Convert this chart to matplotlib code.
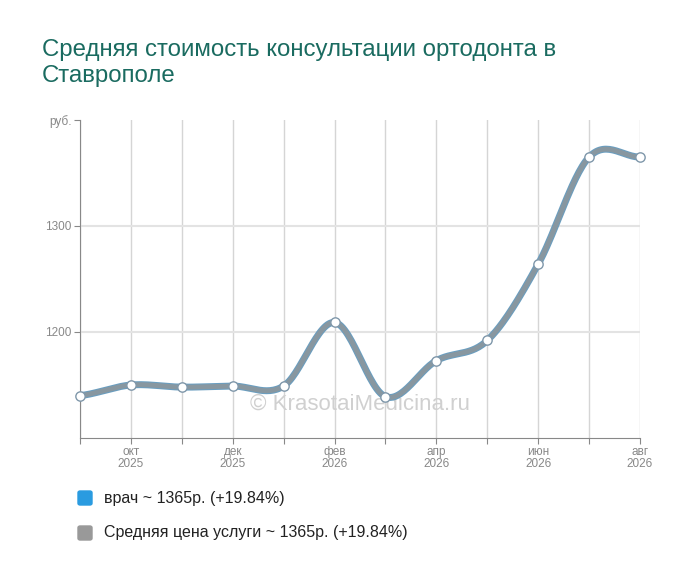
import numpy as np
import matplotlib
matplotlib.use("Agg")
import matplotlib.pyplot as plt
plt.rcParams['font.family'] = ['Liberation Sans', 'DejaVu Sans']

months = ["сен\n2025","окт\n2025","ноя\n2025","дек\n2025","янв\n2026","фев\n2026","мар\n2026","апр\n2026","май\n2026","июн\n2026","июл\n2026","авг\n2026"]
tick_labels = ["", "окт\n2025", "", "дек\n2025", "", "фев\n2026", "", "апр\n2026", "", "июн\n2026", "", "авг\n2026"]
values = [1140, 1150, 1148, 1149, 1149, 1209, 1139, 1173, 1192, 1264, 1365, 1365]
legend_labels = ["врач ~ 1365р. (+19.84%)", "Средняя цена услуги ~ 1365р. (+19.84%)"]

def catmull(x, y, n=30):
    x = np.asarray(x, float); y = np.asarray(y, float)
    xs, ys = [], []
    for i in range(len(x)-1):
        p0 = y[max(i-1,0)]; p1 = y[i]; p2 = y[i+1]; p3 = y[min(i+2,len(y)-1)]
        t = np.linspace(0,1,n,endpoint=False)
        ys.append(0.5*((2*p1)+(-p0+p2)*t+(2*p0-5*p1+4*p2-p3)*t**2+(-p0+3*p1-3*p2+p3)*t**3))
        xs.append(x[i]+t*(x[i+1]-x[i]))
    xs.append([x[-1]]); ys.append([y[-1]])
    return np.concatenate(xs), np.concatenate(ys)

fig = plt.figure(figsize=(7,5.82), dpi=100)
ax = fig.add_axes([80/700, 1-438/582, 560/700, 318/582])
x = np.arange(len(values))
sx, sy = catmull(x, values)
ax.plot(sx, sy, color="#6a9ec0", lw=5, solid_capstyle="round", zorder=3)
ax.plot(sx, sy, color="#8e969b", lw=3.5, alpha=0.85, solid_capstyle="round", zorder=4)
ax.scatter(x, values, s=45, facecolor="white", edgecolor="#7f97aa", lw=1, zorder=5, clip_on=False)
ax.set_xlim(0, 11)
ax.set_ylim(1100, 1400)
ax.set_xticks(x)
ax.set_xticklabels(tick_labels, fontsize=8.5, color="#888888", linespacing=1.0)
ax.set_yticks([1200, 1300, 1400])
ax.set_yticklabels(["1200", "1300", "руб."], fontsize=8.5, color="#888888")
for xi in x:
    ax.axvline(xi, color="#d5d5d5", lw=1, zorder=1)
for yv in [1200, 1300]:
    ax.axhline(yv, color="#e3e3e3", lw=1.5, zorder=1)
for s in ["top", "right"]:
    ax.spines[s].set_visible(False)
for s in ["left", "bottom"]:
    ax.spines[s].set_color("#888888")
ax.tick_params(colors="#888888", length=4, pad=2)
ax.text(0.5, 0.09, "© KrasotaiMedicina.ru", transform=ax.transAxes, ha="center",
        fontsize=16, color="#d0d0d0", zorder=2)
fig.text(42/700, 1-63/582, "Средняя стоимость консультации ортодонта в\nСтаврополе",
         fontsize=17.3, color="#1a6b60", va="center", linespacing=1.2)
for i, (lab, c) in enumerate(zip(legend_labels, ["#2a9be0", "#999999"])):
    yy = 1-(498+35*i)/582
    fig.patches.append(matplotlib.patches.FancyBboxPatch((78/700, yy-7/582), 14/700, 14/582,
        boxstyle="round,pad=0,rounding_size=0.003", transform=fig.transFigure, color=c))
    fig.text(104/700, yy, lab, fontsize=11.5, va="center", color="#222222")
fig.savefig("out.png")
